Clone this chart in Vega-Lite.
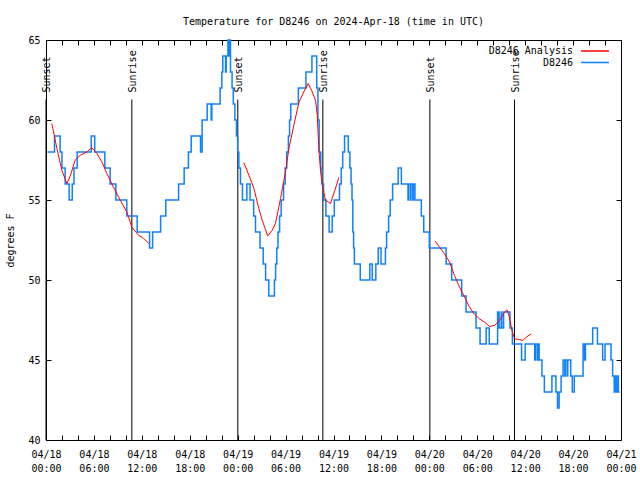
{
  "$schema": "https://vega.github.io/schema/vega-lite/v6.json",
  "width": 575,
  "height": 400,
  "autosize": {"type": "none"},
  "padding": {"left": 46, "top": 40, "right": 19, "bottom": 40},
  "background": "white",
  "title": {"text": "Temperature for D8246 on 2024-Apr-18 (time in UTC)", "font": "DejaVu Sans Mono", "fontSize": 10, "fontWeight": "normal", "color": "black", "anchor": "middle", "offset": 8},
  "config": {
    "view": {"stroke": "black", "strokeWidth": 1},
    "axis": {"labelFont": "DejaVu Sans Mono", "labelFontSize": 10, "labelColor": "black", "tickColor": "black", "tickWidth": 1, "domain": false, "grid": false, "titleFont": "DejaVu Sans Mono", "titleFontSize": 10, "titleFontWeight": "normal", "titleColor": "black", "tickSize": -5}
  },
  "datasets": {
    "obs": [
      {"t": "2024-04-18T00:11Z", "v": 58}, {"t": "2024-04-18T01:04Z", "v": 59}, {"t": "2024-04-18T01:46Z", "v": 58},
      {"t": "2024-04-18T02:00Z", "v": 57}, {"t": "2024-04-18T02:24Z", "v": 56}, {"t": "2024-04-18T02:54Z", "v": 55},
      {"t": "2024-04-18T03:17Z", "v": 56}, {"t": "2024-04-18T03:30Z", "v": 57}, {"t": "2024-04-18T03:54Z", "v": 58},
      {"t": "2024-04-18T05:40Z", "v": 59}, {"t": "2024-04-18T06:06Z", "v": 58}, {"t": "2024-04-18T07:22Z", "v": 57},
      {"t": "2024-04-18T08:02Z", "v": 56}, {"t": "2024-04-18T08:45Z", "v": 55}, {"t": "2024-04-18T10:07Z", "v": 54},
      {"t": "2024-04-18T11:25Z", "v": 53}, {"t": "2024-04-18T12:58Z", "v": 52}, {"t": "2024-04-18T13:21Z", "v": 53},
      {"t": "2024-04-18T14:21Z", "v": 54}, {"t": "2024-04-18T15:00Z", "v": 55}, {"t": "2024-04-18T16:36Z", "v": 56},
      {"t": "2024-04-18T17:18Z", "v": 57}, {"t": "2024-04-18T17:50Z", "v": 58}, {"t": "2024-04-18T18:11Z", "v": 59},
      {"t": "2024-04-18T19:21Z", "v": 58}, {"t": "2024-04-18T19:33Z", "v": 60}, {"t": "2024-04-18T20:11Z", "v": 61},
      {"t": "2024-04-18T20:41Z", "v": 60}, {"t": "2024-04-18T20:46Z", "v": 61}, {"t": "2024-04-18T21:48Z", "v": 62},
      {"t": "2024-04-18T22:01Z", "v": 63}, {"t": "2024-04-18T22:08Z", "v": 64}, {"t": "2024-04-18T22:29Z", "v": 63},
      {"t": "2024-04-18T22:34Z", "v": 64}, {"t": "2024-04-18T22:47Z", "v": 65}, {"t": "2024-04-18T22:51Z", "v": 64},
      {"t": "2024-04-18T22:57Z", "v": 65}, {"t": "2024-04-18T23:06Z", "v": 63}, {"t": "2024-04-18T23:18Z", "v": 62},
      {"t": "2024-04-18T23:27Z", "v": 61}, {"t": "2024-04-18T23:39Z", "v": 60}, {"t": "2024-04-18T23:51Z", "v": 59},
      {"t": "2024-04-19T00:00Z", "v": 58}, {"t": "2024-04-19T00:09Z", "v": 57}, {"t": "2024-04-19T00:21Z", "v": 56},
      {"t": "2024-04-19T00:36Z", "v": 55}, {"t": "2024-04-19T01:09Z", "v": 56}, {"t": "2024-04-19T01:33Z", "v": 55},
      {"t": "2024-04-19T02:00Z", "v": 54}, {"t": "2024-04-19T02:14Z", "v": 53}, {"t": "2024-04-19T02:48Z", "v": 52},
      {"t": "2024-04-19T03:12Z", "v": 51}, {"t": "2024-04-19T03:30Z", "v": 50}, {"t": "2024-04-19T03:54Z", "v": 49},
      {"t": "2024-04-19T04:36Z", "v": 50}, {"t": "2024-04-19T04:45Z", "v": 51}, {"t": "2024-04-19T04:54Z", "v": 52},
      {"t": "2024-04-19T05:03Z", "v": 53}, {"t": "2024-04-19T05:15Z", "v": 54}, {"t": "2024-04-19T05:27Z", "v": 55},
      {"t": "2024-04-19T05:45Z", "v": 56}, {"t": "2024-04-19T05:57Z", "v": 57}, {"t": "2024-04-19T06:09Z", "v": 58},
      {"t": "2024-04-19T06:21Z", "v": 59}, {"t": "2024-04-19T06:30Z", "v": 60}, {"t": "2024-04-19T06:39Z", "v": 61},
      {"t": "2024-04-19T07:36Z", "v": 62}, {"t": "2024-04-19T08:33Z", "v": 63}, {"t": "2024-04-19T09:18Z", "v": 64},
      {"t": "2024-04-19T09:54Z", "v": 62}, {"t": "2024-04-19T10:03Z", "v": 60}, {"t": "2024-04-19T10:12Z", "v": 58},
      {"t": "2024-04-19T10:24Z", "v": 57}, {"t": "2024-04-19T10:33Z", "v": 56}, {"t": "2024-04-19T10:45Z", "v": 55},
      {"t": "2024-04-19T11:03Z", "v": 54}, {"t": "2024-04-19T11:27Z", "v": 53}, {"t": "2024-04-19T11:50Z", "v": 54},
      {"t": "2024-04-19T12:06Z", "v": 55}, {"t": "2024-04-19T12:45Z", "v": 56}, {"t": "2024-04-19T12:58Z", "v": 57},
      {"t": "2024-04-19T13:09Z", "v": 58}, {"t": "2024-04-19T13:23Z", "v": 59}, {"t": "2024-04-19T13:51Z", "v": 58},
      {"t": "2024-04-19T14:03Z", "v": 57}, {"t": "2024-04-19T14:12Z", "v": 56}, {"t": "2024-04-19T14:19Z", "v": 55},
      {"t": "2024-04-19T14:25Z", "v": 53}, {"t": "2024-04-19T14:31Z", "v": 52}, {"t": "2024-04-19T14:37Z", "v": 51},
      {"t": "2024-04-19T15:21Z", "v": 50}, {"t": "2024-04-19T16:33Z", "v": 51}, {"t": "2024-04-19T16:51Z", "v": 50},
      {"t": "2024-04-19T17:18Z", "v": 51}, {"t": "2024-04-19T17:36Z", "v": 52}, {"t": "2024-04-19T17:57Z", "v": 51},
      {"t": "2024-04-19T18:30Z", "v": 52}, {"t": "2024-04-19T18:39Z", "v": 53}, {"t": "2024-04-19T18:54Z", "v": 54},
      {"t": "2024-04-19T19:06Z", "v": 55}, {"t": "2024-04-19T19:24Z", "v": 56}, {"t": "2024-04-19T20:06Z", "v": 57},
      {"t": "2024-04-19T20:30Z", "v": 56}, {"t": "2024-04-19T21:20Z", "v": 55}, {"t": "2024-04-19T21:24Z", "v": 56},
      {"t": "2024-04-19T21:38Z", "v": 55}, {"t": "2024-04-19T21:42Z", "v": 56}, {"t": "2024-04-19T21:56Z", "v": 55},
      {"t": "2024-04-19T22:00Z", "v": 56}, {"t": "2024-04-19T22:12Z", "v": 55},
      {"t": "2024-04-19T23:00Z", "v": 54}, {"t": "2024-04-19T23:18Z", "v": 53},
      {"t": "2024-04-20T00:00Z", "v": 52}, {"t": "2024-04-20T02:06Z", "v": 51}, {"t": "2024-04-20T02:48Z", "v": 50},
      {"t": "2024-04-20T04:03Z", "v": 49}, {"t": "2024-04-20T04:36Z", "v": 48}, {"t": "2024-04-20T05:51Z", "v": 47},
      {"t": "2024-04-20T06:21Z", "v": 46}, {"t": "2024-04-20T07:07Z", "v": 47}, {"t": "2024-04-20T07:30Z", "v": 46},
      {"t": "2024-04-20T08:33Z", "v": 48}, {"t": "2024-04-20T08:44Z", "v": 47}, {"t": "2024-04-20T09:00Z", "v": 48},
      {"t": "2024-04-20T09:04Z", "v": 47}, {"t": "2024-04-20T09:18Z", "v": 48}, {"t": "2024-04-20T10:06Z", "v": 47},
      {"t": "2024-04-20T10:24Z", "v": 46}, {"t": "2024-04-20T11:33Z", "v": 45}, {"t": "2024-04-20T12:00Z", "v": 46},
      {"t": "2024-04-20T13:12Z", "v": 45}, {"t": "2024-04-20T13:16Z", "v": 46}, {"t": "2024-04-20T13:30Z", "v": 45},
      {"t": "2024-04-20T13:34Z", "v": 46}, {"t": "2024-04-20T13:45Z", "v": 45}, {"t": "2024-04-20T14:06Z", "v": 44},
      {"t": "2024-04-20T14:24Z", "v": 43}, {"t": "2024-04-20T15:21Z", "v": 44}, {"t": "2024-04-20T15:51Z", "v": 43},
      {"t": "2024-04-20T16:03Z", "v": 42}, {"t": "2024-04-20T16:15Z", "v": 43}, {"t": "2024-04-20T16:30Z", "v": 44},
      {"t": "2024-04-20T16:45Z", "v": 45}, {"t": "2024-04-20T16:58Z", "v": 44}, {"t": "2024-04-20T17:02Z", "v": 45},
      {"t": "2024-04-20T17:16Z", "v": 44}, {"t": "2024-04-20T17:20Z", "v": 45}, {"t": "2024-04-20T17:42Z", "v": 44},
      {"t": "2024-04-20T17:54Z", "v": 43}, {"t": "2024-04-20T18:09Z", "v": 44}, {"t": "2024-04-20T19:15Z", "v": 46},
      {"t": "2024-04-20T19:27Z", "v": 45}, {"t": "2024-04-20T19:33Z", "v": 46}, {"t": "2024-04-20T20:27Z", "v": 47},
      {"t": "2024-04-20T21:03Z", "v": 46}, {"t": "2024-04-20T21:42Z", "v": 45}, {"t": "2024-04-20T22:00Z", "v": 46},
      {"t": "2024-04-20T22:45Z", "v": 45}, {"t": "2024-04-20T22:57Z", "v": 44}, {"t": "2024-04-20T23:09Z", "v": 43},
      {"t": "2024-04-20T23:20Z", "v": 44}, {"t": "2024-04-20T23:24Z", "v": 43}, {"t": "2024-04-20T23:36Z", "v": 44},
      {"t": "2024-04-20T23:40Z", "v": 43}, {"t": "2024-04-20T23:50Z", "v": 43}
    ],
    "ana": [
      {"seg": "a", "t": "2024-04-18T00:44Z", "v": 59.78}, {"seg": "a", "t": "2024-04-18T01:22Z", "v": 58.22},
      {"seg": "a", "t": "2024-04-18T01:59Z", "v": 56.86}, {"seg": "a", "t": "2024-04-18T02:37Z", "v": 56.03},
      {"seg": "a", "t": "2024-04-18T03:02Z", "v": 56.5}, {"seg": "a", "t": "2024-04-18T03:39Z", "v": 57.49},
      {"seg": "a", "t": "2024-04-18T04:17Z", "v": 57.8}, {"seg": "a", "t": "2024-04-18T05:07Z", "v": 58.0},
      {"seg": "a", "t": "2024-04-18T05:44Z", "v": 58.28}, {"seg": "a", "t": "2024-04-18T06:22Z", "v": 57.9},
      {"seg": "a", "t": "2024-04-18T06:59Z", "v": 57.4}, {"seg": "a", "t": "2024-04-18T07:37Z", "v": 56.66},
      {"seg": "a", "t": "2024-04-18T08:27Z", "v": 55.8}, {"seg": "a", "t": "2024-04-18T09:17Z", "v": 55.0},
      {"seg": "a", "t": "2024-04-18T10:07Z", "v": 54.26}, {"seg": "a", "t": "2024-04-18T10:45Z", "v": 53.3},
      {"seg": "a", "t": "2024-04-18T11:35Z", "v": 52.8}, {"seg": "a", "t": "2024-04-18T12:13Z", "v": 52.6},
      {"seg": "a", "t": "2024-04-18T12:53Z", "v": 52.28},
      {"seg": "b", "t": "2024-04-19T00:46Z", "v": 57.34}, {"seg": "b", "t": "2024-04-19T01:24Z", "v": 56.55},
      {"seg": "b", "t": "2024-04-19T02:02Z", "v": 55.72}, {"seg": "b", "t": "2024-04-19T02:39Z", "v": 54.47},
      {"seg": "b", "t": "2024-04-19T03:04Z", "v": 53.74}, {"seg": "b", "t": "2024-04-19T03:46Z", "v": 52.76},
      {"seg": "b", "t": "2024-04-19T04:19Z", "v": 53.1}, {"seg": "b", "t": "2024-04-19T04:44Z", "v": 53.53},
      {"seg": "b", "t": "2024-04-19T05:22Z", "v": 55.09}, {"seg": "b", "t": "2024-04-19T05:59Z", "v": 56.76},
      {"seg": "b", "t": "2024-04-19T06:25Z", "v": 58.22}, {"seg": "b", "t": "2024-04-19T07:02Z", "v": 59.67},
      {"seg": "b", "t": "2024-04-19T07:40Z", "v": 61.1}, {"seg": "b", "t": "2024-04-19T08:17Z", "v": 61.76},
      {"seg": "b", "t": "2024-04-19T08:50Z", "v": 62.28}, {"seg": "b", "t": "2024-04-19T09:15Z", "v": 61.86},
      {"seg": "b", "t": "2024-04-19T09:45Z", "v": 61.23}, {"seg": "b", "t": "2024-04-19T09:58Z", "v": 60.3},
      {"seg": "b", "t": "2024-04-19T10:10Z", "v": 58.2}, {"seg": "b", "t": "2024-04-19T10:23Z", "v": 56.76},
      {"seg": "b", "t": "2024-04-19T10:40Z", "v": 55.72}, {"seg": "b", "t": "2024-04-19T11:00Z", "v": 54.99},
      {"seg": "b", "t": "2024-04-19T11:38Z", "v": 54.78}, {"seg": "b", "t": "2024-04-19T11:50Z", "v": 55.1},
      {"seg": "b", "t": "2024-04-19T12:10Z", "v": 55.6}, {"seg": "b", "t": "2024-04-19T12:40Z", "v": 56.4},
      {"seg": "c", "t": "2024-04-20T00:44Z", "v": 52.43}, {"seg": "c", "t": "2024-04-20T01:16Z", "v": 52.06},
      {"seg": "c", "t": "2024-04-20T01:54Z", "v": 51.64}, {"seg": "c", "t": "2024-04-20T02:32Z", "v": 51.12},
      {"seg": "c", "t": "2024-04-20T03:09Z", "v": 50.28}, {"seg": "c", "t": "2024-04-20T03:47Z", "v": 49.55},
      {"seg": "c", "t": "2024-04-20T04:25Z", "v": 48.93}, {"seg": "c", "t": "2024-04-20T05:02Z", "v": 48.3},
      {"seg": "c", "t": "2024-04-20T05:40Z", "v": 47.85}, {"seg": "c", "t": "2024-04-20T06:17Z", "v": 47.57},
      {"seg": "c", "t": "2024-04-20T06:55Z", "v": 47.37}, {"seg": "c", "t": "2024-04-20T07:32Z", "v": 47.1},
      {"seg": "c", "t": "2024-04-20T08:10Z", "v": 47.16}, {"seg": "c", "t": "2024-04-20T08:47Z", "v": 47.47},
      {"seg": "c", "t": "2024-04-20T09:20Z", "v": 47.93}, {"seg": "c", "t": "2024-04-20T09:43Z", "v": 48.14},
      {"seg": "c", "t": "2024-04-20T10:02Z", "v": 47.68}, {"seg": "c", "t": "2024-04-20T10:20Z", "v": 46.85},
      {"seg": "c", "t": "2024-04-20T10:40Z", "v": 46.33}, {"seg": "c", "t": "2024-04-20T11:17Z", "v": 46.28},
      {"seg": "c", "t": "2024-04-20T11:43Z", "v": 46.22}, {"seg": "c", "t": "2024-04-20T12:08Z", "v": 46.43},
      {"seg": "c", "t": "2024-04-20T12:45Z", "v": 46.63}
    ],
    "sun": [
      {"t": "2024-04-18T00:00Z", "e": "Sunset"}, {"t": "2024-04-18T10:45Z", "e": "Sunrise"},
      {"t": "2024-04-19T00:01Z", "e": "Sunset"}, {"t": "2024-04-19T10:40Z", "e": "Sunrise"},
      {"t": "2024-04-20T00:04Z", "e": "Sunset"}, {"t": "2024-04-20T10:40Z", "e": "Sunrise"}
    ]
  },
  "layer": [
    {
      "data": {"name": "sun"},
      "mark": {"type": "rule", "color": "black", "strokeWidth": 1},
      "encoding": {
        "x": {"field": "t", "type": "temporal", "scale": {"type": "utc", "domain": [1713398400000, 1713657600000]},
              "axis": {"orient": "top", "labels": false, "title": null, "values": [1713398400000, 1713405600000, 1713412800000, 1713420000000, 1713427200000, 1713434400000, 1713441600000, 1713448800000, 1713456000000, 1713463200000, 1713470400000, 1713477600000, 1713484800000, 1713492000000, 1713499200000, 1713506400000, 1713513600000, 1713520800000, 1713528000000, 1713535200000, 1713542400000, 1713549600000, 1713556800000, 1713564000000, 1713571200000, 1713578400000, 1713585600000, 1713592800000, 1713600000000, 1713607200000, 1713614400000, 1713621600000, 1713628800000, 1713636000000, 1713643200000, 1713650400000, 1713657600000]}},
        "y": {"datum": 40, "type": "quantitative", "scale": {"domain": [40, 65]},
              "axis": {"orient": "right", "labels": false, "title": null, "values": [45, 50, 55, 60]}},
        "y2": {"datum": 61.28}
      }
    },
    {
      "data": {"name": "sun"},
      "mark": {"type": "text", "angle": 270, "align": "left", "baseline": "middle", "dy": 1, "font": "DejaVu Sans Mono", "fontSize": 10, "color": "black"},
      "encoding": {
        "x": {"field": "t", "type": "temporal", "scale": {"type": "utc", "domain": [1713398400000, 1713657600000]}, "axis": null},
        "y": {"datum": 61.72, "type": "quantitative", "scale": {"domain": [40, 65]}, "axis": null},
        "text": {"field": "e"}
      }
    },
    {
      "data": {"name": "obs"},
      "mark": {"type": "line", "interpolate": "step-after", "strokeWidth": 1.5},
      "encoding": {
        "x": {"field": "t", "type": "temporal", "scale": {"type": "utc", "domain": [1713398400000, 1713657600000]},
              "axis": {"orient": "bottom", "title": null, "values": [1713398400000, 1713405600000, 1713412800000, 1713420000000, 1713427200000, 1713434400000, 1713441600000, 1713448800000, 1713456000000, 1713463200000, 1713470400000, 1713477600000, 1713484800000, 1713492000000, 1713499200000, 1713506400000, 1713513600000, 1713520800000, 1713528000000, 1713535200000, 1713542400000, 1713549600000, 1713556800000, 1713564000000, 1713571200000, 1713578400000, 1713585600000, 1713592800000, 1713600000000, 1713607200000, 1713614400000, 1713621600000, 1713628800000, 1713636000000, 1713643200000, 1713650400000, 1713657600000], "labelExpr": "utchours(datum.value) % 6 == 0 ? [utcFormat(datum.value, '%m/%d'), utcFormat(datum.value, '%H:%M')] : ''", "labelOverlap": false, "labelFlush": false, "labelBound": false, "labelPadding": 14, "labelLineHeight": 14, "labelAngle": 0, "labelAlign": "center", "labelBaseline": "top"}},
        "y": {"field": "v", "type": "quantitative", "scale": {"domain": [40, 65]},
              "axis": {"orient": "left", "title": "degrees F", "values": [40, 45, 50, 55, 60, 65], "labelPadding": 11, "titlePadding": 12}},
        "color": {"datum": "D8246", "type": "nominal", "scale": {"domain": ["D8246 Analysis", "D8246"], "range": ["#ff0000", "#0f80ff"]},
                  "legend": {"title": null, "orient": "none", "legendX": 437, "legendY": 5, "symbolType": "M-2.8,0H2.8", "symbolSize": 100, "symbolStrokeWidth": 1.5, "labelAlign": "right", "symbolOffset": 106, "labelOffset": -28, "labelFont": "DejaVu Sans Mono", "labelFontSize": 10, "labelColor": "black", "padding": 0, "rowPadding": 0.5, "labelLimit": 0}}
      }
    },
    {
      "data": {"name": "ana"},
      "mark": {"type": "line", "strokeWidth": 1},
      "encoding": {
        "x": {"field": "t", "type": "temporal", "scale": {"type": "utc", "domain": [1713398400000, 1713657600000]}, "axis": null},
        "y": {"field": "v", "type": "quantitative", "scale": {"domain": [40, 65]}, "axis": null},
        "detail": {"field": "seg"},
        "color": {"datum": "D8246 Analysis", "type": "nominal", "scale": {"domain": ["D8246 Analysis", "D8246"], "range": ["#ff0000", "#0f80ff"]},
                  "legend": {"title": null, "orient": "none", "legendX": 437, "legendY": 5, "symbolType": "M-2.8,0H2.8", "symbolSize": 100, "symbolStrokeWidth": 1.5, "labelAlign": "right", "symbolOffset": 106, "labelOffset": -28, "labelFont": "DejaVu Sans Mono", "labelFontSize": 10, "labelColor": "black", "padding": 0, "rowPadding": 0.5, "labelLimit": 0}}
      }
    }
  ],
  "resolve": {"axis": {"x": "independent", "y": "independent"}}
}
